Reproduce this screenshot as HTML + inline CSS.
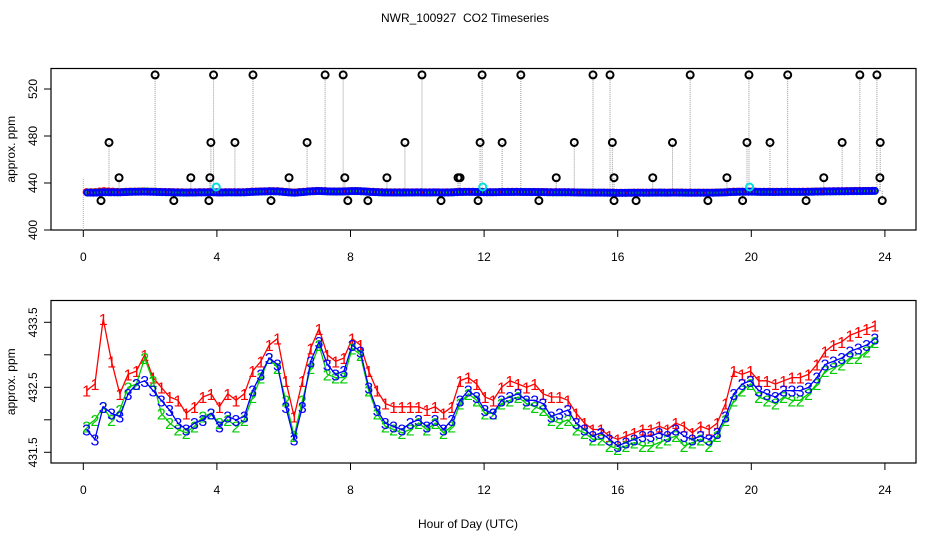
<!DOCTYPE html>
<html><head><meta charset="utf-8"><style>
body{margin:0;background:#fff}
svg{display:block;font-family:"Liberation Sans",sans-serif}
</style></head><body>
<svg id="chart" width="936" height="540" viewBox="0 0 936 540">
<rect x="0" y="0" width="936" height="540" fill="#fff"/>
<text x="465" y="22" font-size="12" text-anchor="middle" xml:space="preserve">NWR_100927  CO2 Timeseries</text>
<text x="468" y="528" font-size="12" text-anchor="middle">Hour of Day (UTC)</text>
<g id="top"></g>
<g id="bot"></g>
</svg>
<script>
const xTicks=[0,4,8,12,16,20,24];
const topYTicks=[400,440,480,520];
const botYTicks=[431.5,432.5,433.5];
const botMinorTicks=[431.5,432,432.5,433,433.5];
const s1=[432.45,432.55,433.55,432.9,432.4,432.7,432.75,433.0,432.65,432.5,
432.35,432.3,432.1,432.2,432.35,432.4,432.2,432.4,432.3,432.4,
432.75,432.9,433.15,433.25,432.6,432.05,432.6,433.1,433.4,433.0,
432.9,432.95,433.25,433.15,432.75,432.45,432.25,432.2,432.2,432.2,
432.2,432.15,432.2,432.1,432.2,432.6,432.65,432.55,432.35,432.3,
432.5,432.6,432.55,432.5,432.55,432.4,432.35,432.35,432.3,432.1,
431.95,431.85,431.85,431.75,431.7,431.75,431.8,431.85,431.85,431.9,
431.85,431.95,431.9,431.8,431.9,431.85,431.95,432.25,432.75,432.7,
432.75,432.6,432.6,432.55,432.6,432.65,432.65,432.7,432.85,433.05,
433.15,433.2,433.3,433.35,433.4,433.45];
const s2=[431.9,432.0,432.2,432.0,432.15,432.5,432.55,432.95,432.6,432.1,
431.95,431.85,431.8,431.9,432.05,432.1,431.95,432.0,431.9,432.0,
432.35,432.65,432.95,432.8,432.3,431.75,432.3,432.8,433.15,432.7,
432.65,432.65,433.1,433.0,432.45,432.1,431.9,431.85,431.8,431.85,
431.95,431.85,431.95,431.8,431.9,432.25,432.4,432.3,432.1,432.1,
432.25,432.3,432.35,432.25,432.2,432.15,432.0,431.95,432.0,431.85,
431.8,431.7,431.7,431.6,431.55,431.6,431.65,431.6,431.6,431.65,
431.7,431.75,431.6,431.65,431.7,431.6,431.75,432.0,432.3,432.45,
432.55,432.35,432.3,432.25,432.35,432.3,432.3,432.4,432.55,432.75,
432.8,432.85,432.95,432.95,433.05,433.2];
const s3=[431.85,431.7,432.2,432.1,432.05,432.4,432.55,432.6,432.45,432.3,
432.15,431.95,431.85,431.95,432.0,432.1,431.9,432.05,432.0,432.05,
432.45,432.7,432.95,432.85,432.2,431.7,432.2,432.9,433.2,432.85,
432.7,432.75,433.15,433.05,432.5,432.15,431.95,431.9,431.85,431.95,
432.0,431.9,432.0,431.85,432.0,432.3,432.45,432.35,432.15,432.1,
432.3,432.35,432.4,432.3,432.3,432.25,432.05,432.1,432.15,431.95,
431.85,431.75,431.8,431.7,431.6,431.65,431.7,431.75,431.75,431.8,
431.75,431.85,431.75,431.7,431.75,431.7,431.8,432.05,432.4,432.55,
432.6,432.45,432.4,432.35,432.45,432.45,432.45,432.5,432.65,432.85,
432.9,432.95,433.05,433.1,433.15,433.25];
const startHour=0.1, endHour=23.7;
const outHours=[2.15,3.9,5.08,7.24,7.78,10.14,11.94,13.1,15.26,15.77,18.17,19.93,21.09,23.25,23.76,
0.77,3.82,4.54,6.70,9.63,11.88,12.54,14.7,15.84,17.64,19.87,20.56,22.72,23.86,
1.07,3.22,3.79,6.16,7.83,9.09,11.22,11.28,14.16,15.89,17.05,19.27,22.17,23.85,
0.53,2.71,3.76,5.62,7.92,8.52,10.71,11.82,13.64,15.89,16.55,18.70,19.74,21.64,23.92];
const outValues=[532,532,532,532,532,532,532,532,532,532,532,532,532,532,532,
474.5,474.5,474.5,474.5,474.5,474.5,474.5,474.5,474.5,474.5,474.5,474.5,474.5,474.5,
444.5,444.5,444.5,444.5,444.5,444.5,444.5,444.5,444.5,444.5,444.5,444.5,444.5,444.5,
425,425,425,425,425,425,425,425,425,425,425,425,425,425,425];
const cyanHours=[3.98,11.96,19.95];
const cyanValues=[436.6,436.6,436.6];

const NS='http://www.w3.org/2000/svg';
function mk(parent,tag,attrs){const e=document.createElementNS(NS,tag);for(const k in attrs)e.setAttribute(k,attrs[k]);parent.appendChild(e);return e;}
const X=h=>83.3+h*33.4;
const yT=v=>230-(v-400)*1.175;
const yB=v=>452.3-(v-431.5)*65;
const hourAt=(i,n)=>startHour+i*(endHour-startHour)/(n-1);
function interp(arr,h){const n=arr.length;let f=(h-startHour)/(endHour-startHour)*(n-1);f=Math.max(0,Math.min(n-1,f));const i=Math.floor(f),j=Math.min(n-1,i+1);return arr[i]+(arr[j]-arr[i])*(f-i);}

function frame(g,top,bot,yTicks,yf,name){
  const b=mk(g,'rect',{x:51,y:top,width:865,height:bot-top,fill:'none',stroke:'#000','stroke-width':1.2});
  
  
  const ax=mk(g,'line',{x1:X(0),x2:X(24),y1:bot,y2:bot,stroke:'#000'});
  
  
  xTicks.forEach(t=>{
    const tk=mk(g,'line',{x1:X(t),x2:X(t),y1:bot,y2:bot+7,stroke:'#000'});
    
    
    const tl=mk(g,'text',{x:X(t),y:bot+31,'font-size':12,'text-anchor':'middle'});
    tl.textContent=t;
    
    
  });
  yTicks.forEach(t=>{
    const tk=mk(g,'line',{x1:44,x2:51,y1:yf(t),y2:yf(t),stroke:'#000'});
    
    
  });
  const yt=mk(g,'text',{x:0,y:0,'font-size':12,'text-anchor':'middle',transform:`translate(15,${(top+bot)/2}) rotate(-90)`});
  yt.textContent='approx. ppm';
  
  
}
function yLabels(g,ticks,yf,name){
  ticks.forEach(t=>{
    const tl=mk(g,'text',{x:0,y:0,'font-size':12,'text-anchor':'middle',transform:`translate(37,${yf(t)}) rotate(-90)`});
    tl.textContent=t;
    
    
  });
}

// TOP PANEL
const gt=document.getElementById('top');
frame(gt,68.5,230,topYTicks,yT,'top');
yLabels(gt,topYTicks,yT,'top');
const v0=mk(gt,'line',{x1:X(0),x2:X(0),y1:yT(400),y2:yT(444.5),stroke:'#aaa','stroke-dasharray':'1,1'});


outHours.forEach((h,i)=>{
  const base=interp(s3,h);
  const l=mk(gt,'line',{x1:X(h),x2:X(h),y1:yT(base),y2:yT(outValues[i]),stroke:'#999','stroke-dasharray':'1,1'});
  
  
});
const bandCols=[['#ff0000',s1,0],['#00cc00',s2,0.05],['#0000ff',s3,0.02]];
const tg=mk(gt,'g',{});


bandCols.forEach(([c,arr,off])=>{
  const step=c==='#0000ff'?0.09:0.13;
  for(let h=startHour+off;h<=endHour;h+=step){
    const v=interp(s3,h)*0.3+interp(arr,h)*0.7;
    const p=mk(tg,'circle',{cx:X(h),cy:yT(v),r:3,fill:'none',stroke:c,'stroke-width':2});
    
    
  }
});
cyanHours.forEach((h,i)=>{
  const c=mk(gt,'circle',{cx:X(h),cy:yT(cyanValues[i]),r:3.5,fill:'none',stroke:'#00dddd','stroke-width':2});
  
  
});
outHours.forEach((h,i)=>{
  const c=mk(gt,'circle',{cx:X(h),cy:yT(outValues[i]),r:3.5,fill:'none',stroke:'#000','stroke-width':2});
  
  
});

// BOTTOM PANEL
const gb=document.getElementById('bot');
frame(gb,300.5,463,botMinorTicks,yB,'bottom');
yLabels(gb,botYTicks,yB,'bottom');
const series=[['1','#ff0000',s1],['2','#00cc00',s2],['3','#0000ff',s3]];
series.forEach(([lab,col,arr])=>{
  const pts=arr.map((v,i)=>X(hourAt(i,arr.length)).toFixed(1)+','+yB(v).toFixed(1)).join(' ');
  const pl=mk(gb,'polyline',{points:pts,fill:'none',stroke:col,'stroke-width':1.3});
  
  
  arr.forEach((v,i)=>{
    const t=mk(gb,'text',{x:X(hourAt(i,arr.length)),y:yB(v)+6,'font-size':16,'text-anchor':'middle',fill:col});
    t.textContent=lab;
    
    
  });
});
</script>
</body></html>
